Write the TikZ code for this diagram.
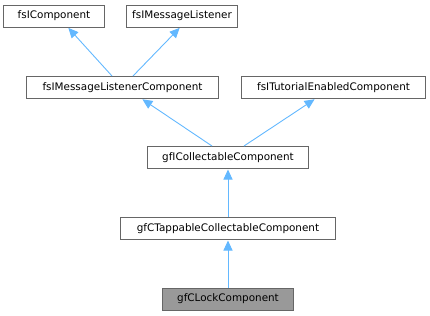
\documentclass[tikz,border=0pt]{standalone}
\usepackage{fontspec}
\setmainfont{DejaVu Sans}
\usetikzlibrary{arrows.meta,calc}
\definecolor{edgeblue}{HTML}{63B8FF}
\definecolor{boxgray}{HTML}{666666}
\definecolor{curfill}{HTML}{999999}
\tikzset{
  cls/.style={draw=boxgray, fill=white, line width=1bp, minimum height=22bp, inner sep=0pt, font=\fontsize{10.4bp}{12bp}\selectfont, anchor=center},
  cur/.style={cls, fill=curfill},
  inh/.style={draw=edgeblue, line width=0.9bp, -{Triangle[length=10bp,width=9bp]}, shorten >=0.5bp}
}
\begin{document}
\begin{tikzpicture}[x=1bp,y=-1bp]
\useasboundingbox (0,0) rectangle (430,316);
\node[cls, minimum width=100bp] (fc) at (54,16) {fsIComponent};
\node[cls, minimum width=110bp] (ml) at (182,16) {fsIMessageListener};
\node[cls, minimum width=191bp] (mlc) at (122.5,87.5) {fsIMessageListenerComponent};
\node[cls, minimum width=183bp] (tut) at (333.5,87.5) {fsITutorialEnabledComponent};
\node[cls, minimum width=160bp] (ic) at (228,157.5) {gfICollectableComponent};
\node[cls, minimum width=214bp] (tap) at (228,228.5) {gfCTappableCollectableComponent};
\node[cur, minimum width=130bp] (lock) at (228,299) {gfCLockComponent};
\draw[inh] ($(mlc.north)+(-10.5,0)$) -- ($(fc.south)+(14,0)$);
\draw[inh] ($(mlc.north)+(10.5,0)$) -- ($(ml.south)+(-2,0)$);
\draw[inh] ($(ic.north)+(-16,0)$) -- ($(mlc.south)+(19.5,0)$);
\draw[inh] ($(ic.north)+(16,0)$) -- ($(tut.south)+(-18.5,0)$);
\draw[inh] (tap.north) -- (ic.south);
\draw[inh] (lock.north) -- (tap.south);
\end{tikzpicture}
\end{document}
